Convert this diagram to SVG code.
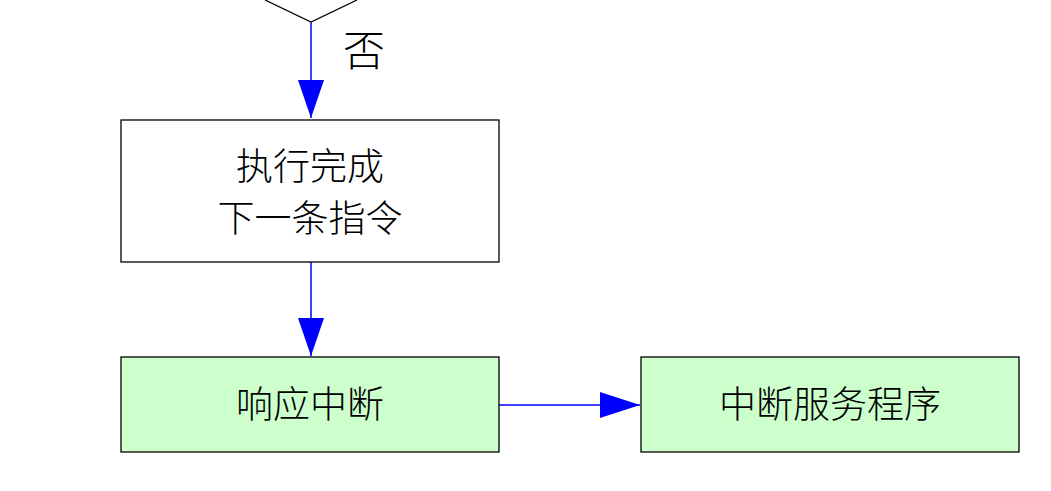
<svg xmlns="http://www.w3.org/2000/svg" width="1051" height="491" viewBox="0 0 1051 491">
<style>
.t{font-family:"Noto Sans CJK SC","Liberation Serif",sans-serif;font-size:37px;font-weight:300;fill:#000;text-anchor:middle}
.b{stroke:#000;stroke-width:1.3}
.c{stroke:#0000ff;stroke-width:1.5;fill:none}
.h{fill:#0000ff}
</style>
<rect width="1051" height="491" fill="#fff"/>
<g id="decision"><path d="M265,0 L311,22 L357,0" fill="none" stroke="#000" stroke-width="1.3"/><text class="t" x="364" y="66" style="font-size:42px">否</text></g>
<g id="connectors">
<line class="c" x1="311" y1="22" x2="311" y2="118"/>
<path class="h" d="M298,80 L324,80 L311,118 Z"/>
<line class="c" x1="311" y1="262" x2="311" y2="356"/>
<path class="h" d="M298,318 L324,318 L311,356 Z"/>
<line class="c" x1="499" y1="405" x2="640" y2="405"/>
<path class="h" d="M600,392 L640,405 L600,418 Z"/>
</g>
<g id="exec"><rect class="b" x="121" y="120" width="378" height="142" fill="#fff"/><text class="t" x="310" y="180">执行完成</text><text class="t" x="310" y="232">下一条指令</text></g>
<g id="respond"><rect class="b" x="121" y="357" width="378" height="95" fill="#ccffcc"/><text class="t" x="310" y="418">响应中断</text></g>
<g id="isr"><rect class="b" x="641" y="357" width="378" height="95" fill="#ccffcc"/><text class="t" x="830" y="418">中断服务程序</text></g>
</svg>
